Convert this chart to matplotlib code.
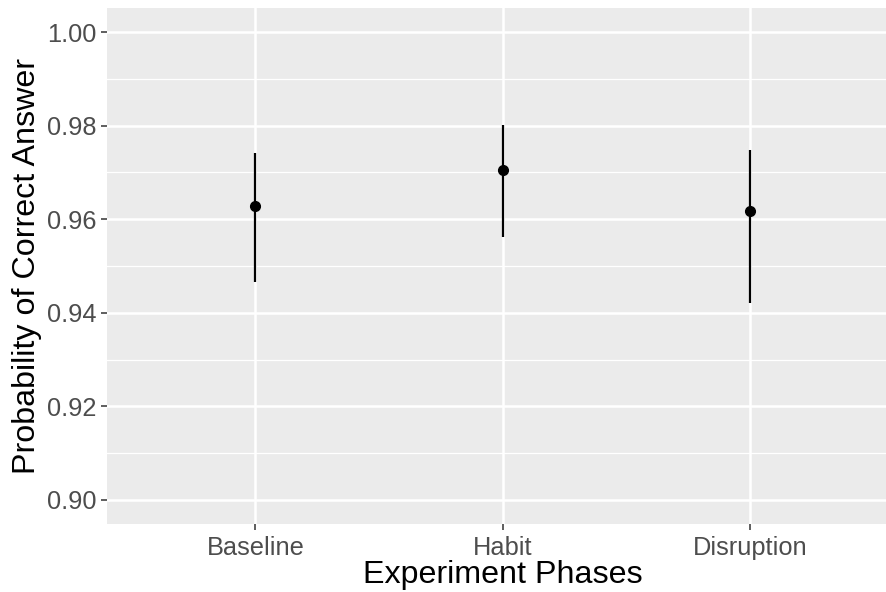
import matplotlib
matplotlib.use("Agg")
import matplotlib.pyplot as plt
import numpy as np

# values
phases = ["Baseline", "Habit", "Disruption"]
prob = [0.9628, 0.9705, 0.9617]
lower = [0.9465, 0.9563, 0.9422]
upper = [0.9742, 0.9801, 0.9748]

yticks = [0.90, 0.92, 0.94, 0.96, 0.98, 1.00]
yminor = [0.91, 0.93, 0.95, 0.97, 0.99]

plt.rcParams['font.family'] = ['Liberation Sans', 'DejaVu Sans']

W, H = 887, 592
fig = plt.figure(figsize=(W / 100, H / 100), dpi=100)
# panel in pixels: left 107, top 8, bottom 524; right runs past the image edge
left, top, bottom = 107, 8, 524
right = 107 + 3.2 * 247.5
ax = fig.add_axes([left / W, 1 - bottom / H, (right - left) / W, (bottom - top) / H])

ax.set_facecolor("#EBEBEB")
for s in ax.spines.values():
    s.set_visible(False)

x = np.arange(1, len(phases) + 1)
ax.set_xlim(0.4, 3.6)
ax.set_ylim(0.89487, 1.00513)

# grid lines
for v in yminor:
    ax.axhline(v, color="white", lw=0.9, zorder=1)
for v in yticks:
    ax.axhline(v, color="white", lw=1.8, zorder=1)
for v in x:
    ax.axvline(v, color="white", lw=1.8, zorder=1)

yerr = [np.array(prob) - np.array(lower), np.array(upper) - np.array(prob)]
ax.errorbar(x, prob, yerr=yerr, fmt="o", color="black", ms=7,
            elinewidth=1.6, capsize=0, zorder=3)

ax.set_xticks(x)
ax.set_xticklabels(phases)
ax.set_yticks(yticks)
ax.set_yticklabels([f"{v:.2f}" for v in yticks])
ax.tick_params(axis="both", colors="#333333", length=4.5, width=1.1,
               labelsize=18.3, labelcolor="#4D4D4D")
ax.tick_params(axis="x", pad=4)
ax.tick_params(axis="y", pad=3)

ax.set_xlabel("Experiment Phases", fontsize=23.2, color="black", labelpad=0)
ax.set_ylabel("Probability of Correct Answer", fontsize=23.2, color="black", labelpad=4)

fig.savefig("out.png", dpi=100)
